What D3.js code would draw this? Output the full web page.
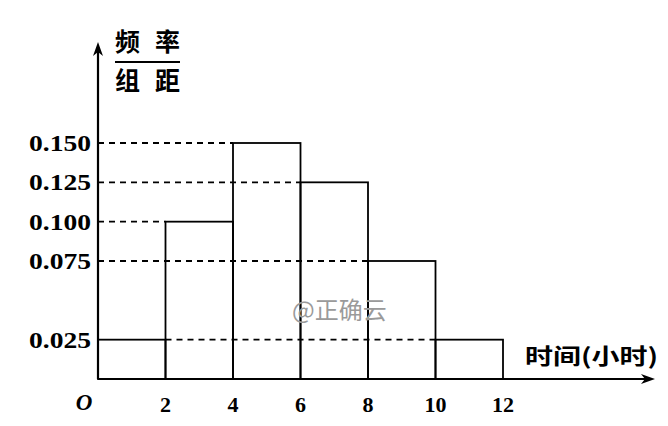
<!DOCTYPE html>
<html><head><meta charset="utf-8">
<script src="https://cdn.jsdelivr.net/npm/d3@7"></script>
<style>body{margin:0;background:#fff}svg{display:block}</style>
</head><body>
<svg id="c" width="668" height="426"></svg>
<script>
const binStarts = [0, 2, 4, 6, 8, 10];
const binWidth = 2;
const densities = [0.025, 0.100, 0.150, 0.125, 0.075, 0.025];
const xTickLabels = [2, 4, 6, 8, 10, 12];
const yTickLabels = ["0.025", "0.075", "0.100", "0.125", "0.150"];
const yTickValues = [0.025, 0.075, 0.100, 0.125, 0.150];

const svg = d3.select("#c");
const x = d3.scaleLinear().domain([0, 12]).range([98, 503]);
const y = d3.scaleLinear().domain([0, 0.15]).range([379, 143]);
const serif = "'Liberation Serif','Times New Roman',serif";
const cjk = "'Noto Sans CJK SC',sans-serif";

// dashed guide lines
const guides = [
  {v: 0.150, x0: 0, x1: 4},
  {v: 0.125, x0: 0, x1: 6},
  {v: 0.100, x0: 0, x1: 2},
  {v: 0.075, x0: 0, x1: 8},
  {v: 0.025, x0: 2, x1: 10}
];
svg.selectAll("line.guide").data(guides).join("line")
  .attr("x1", d => x(d.x0)).attr("x2", d => x(d.x1))
  .attr("y1", d => y(d.v)).attr("y2", d => y(d.v))
  .attr("stroke", "#000").attr("stroke-width", 1.8)
  .attr("stroke-dasharray", "6,5");

// bars
svg.selectAll("rect.bar").data(binStarts).join("rect")
  .attr("x", d => x(d)).attr("width", d => x(d + binWidth) - x(d))
  .attr("y", (d, i) => y(densities[i]))
  .attr("height", (d, i) => y(0) - y(densities[i]))
  .attr("fill", "none").attr("stroke", "#000").attr("stroke-width", 1.8);

// axes
svg.append("line").attr("x1", x(0)).attr("x2", 648).attr("y1", y(0)).attr("y2", y(0))
  .attr("stroke", "#000").attr("stroke-width", 2.2);
svg.append("path").attr("d", `M${655},${y(0)} L${641},${y(0)-5} L${645},${y(0)} L${641},${y(0)+5} Z`).attr("fill", "#000");
svg.append("line").attr("x1", x(0)).attr("x2", x(0)).attr("y1", y(0)).attr("y2", 50)
  .attr("stroke", "#000").attr("stroke-width", 2.2);
svg.append("path").attr("d", `M${x(0)},${42} L${x(0)-5},${56} L${x(0)},${52} L${x(0)+5},${56} Z`).attr("fill", "#000");

// y tick labels
svg.selectAll("text.yt").data(yTickValues).join("text")
  .attr("x", 91).attr("y", d => y(d)).attr("dy", "0.35em")
  .attr("text-anchor", "end").attr("font-family", serif).attr("font-weight", "bold")
  .attr("font-size", 23).attr("textLength", 62).attr("lengthAdjust", "spacingAndGlyphs")
  .text((d, i) => yTickLabels[i]);

// x tick labels
svg.selectAll("text.xt").data(xTickLabels).join("text")
  .attr("x", d => x(d)).attr("y", 404).attr("dy", "0.35em")
  .attr("text-anchor", "middle").attr("font-family", serif).attr("font-weight", "bold")
  .attr("font-size", 22).text(d => d);

// origin
svg.append("text").attr("x", 84).attr("y", 402).attr("dy", "0.35em")
  .attr("text-anchor", "middle").attr("font-family", serif).attr("font-weight", "bold")
  .attr("font-style", "italic").attr("font-size", 23).text("O");

// y-axis title (fraction)
svg.append("text").attr("x", 115).attr("y", 42).attr("dy", "0.35em")
  .attr("font-family", cjk).attr("font-weight", "bold").attr("font-size", 25)
  .attr("textLength", 65).attr("lengthAdjust", "spacing").text("频率");
svg.append("line").attr("x1", 115).attr("x2", 180).attr("y1", 62).attr("y2", 62)
  .attr("stroke", "#000").attr("stroke-width", 2);
svg.append("text").attr("x", 115).attr("y", 81).attr("dy", "0.35em")
  .attr("font-family", cjk).attr("font-weight", "bold").attr("font-size", 25)
  .attr("textLength", 65).attr("lengthAdjust", "spacing").text("组距");

// x-axis title
svg.append("text").attr("x", 525).attr("y", 356).attr("dy", "0.35em")
  .attr("font-family", cjk).attr("font-weight", "bold").attr("font-size", 22)
  .attr("textLength", 133).attr("lengthAdjust", "spacingAndGlyphs").text("时间(小时)");

// watermark
svg.append("text").attr("x", 292).attr("y", 311).attr("dy", "0.35em")
  .attr("font-family", cjk).attr("font-size", 24).attr("fill", "#9a9a9a").text("@正确云");
</script>
</body></html>
